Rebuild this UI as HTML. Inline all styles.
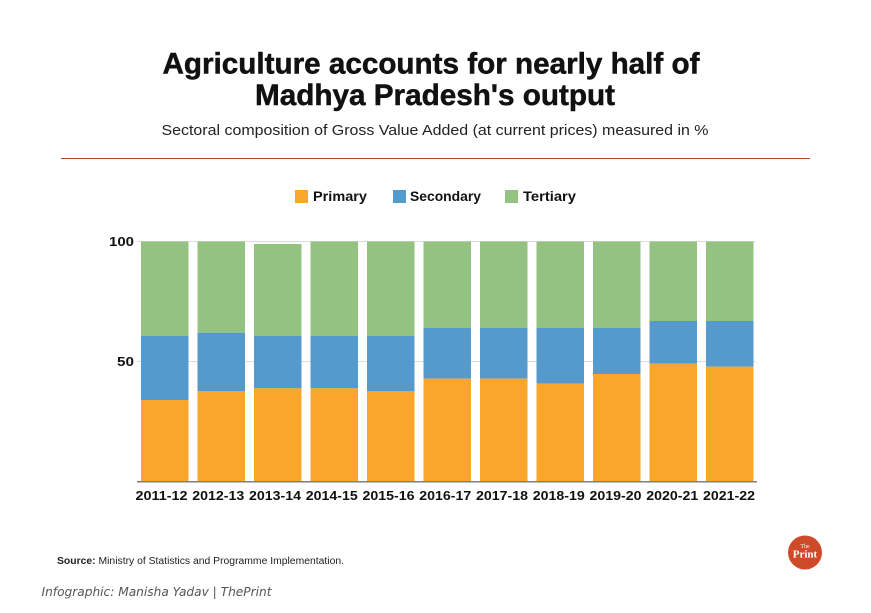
<!DOCTYPE html>
<html>
<head>
<meta charset="utf-8">
<style>
  html,body{margin:0;padding:0;background:#fff;}
  svg{display:block;}
</style>
</head>
<body>
<svg width="871" height="613" viewBox="0 0 871 613" xmlns="http://www.w3.org/2000/svg">
  <rect width="871" height="613" fill="#ffffff"/>
  <!-- Title -->
  <text x="162.5" y="73.5" font-family="Liberation Sans, sans-serif" font-weight="bold" font-size="29.5" fill="#111" stroke="#111" stroke-width="0.5" textLength="537" lengthAdjust="spacingAndGlyphs">Agriculture accounts for nearly half of</text>
  <text x="255" y="105" font-family="Liberation Sans, sans-serif" font-weight="bold" font-size="29.5" fill="#111" stroke="#111" stroke-width="0.5" textLength="360" lengthAdjust="spacingAndGlyphs">Madhya Pradesh's output</text>
  <text x="161.5" y="135" font-family="Liberation Sans, sans-serif" font-size="14.5" fill="#222" textLength="547" lengthAdjust="spacingAndGlyphs">Sectoral composition of Gross Value Added (at current prices) measured in %</text>
  <line x1="61" y1="158.5" x2="810" y2="158.5" stroke="#A84A2C" stroke-width="1"/>

  <!-- Legend -->
  <rect x="295" y="190" width="13" height="13" fill="#FAA52B"/>
  <text x="313" y="201" font-family="Liberation Sans, sans-serif" font-weight="bold" font-size="13.5" fill="#111" textLength="54" lengthAdjust="spacingAndGlyphs">Primary</text>
  <rect x="393" y="190" width="13" height="13" fill="#559ACD"/>
  <text x="410" y="201" font-family="Liberation Sans, sans-serif" font-weight="bold" font-size="13.5" fill="#111" textLength="71" lengthAdjust="spacingAndGlyphs">Secondary</text>
  <rect x="505" y="190" width="13" height="13" fill="#94C280"/>
  <text x="523" y="201" font-family="Liberation Sans, sans-serif" font-weight="bold" font-size="13.5" fill="#111" textLength="53" lengthAdjust="spacingAndGlyphs">Tertiary</text>

  <!-- Gridlines -->
  <line x1="137" y1="241.5" x2="756" y2="241.5" stroke="#dcdcdc" stroke-width="1"/>
  <line x1="137" y1="361.5" x2="756" y2="361.5" stroke="#dcdcdc" stroke-width="1"/>

  <!-- Y labels -->
  <text x="134" y="246" text-anchor="end" font-family="Liberation Sans, sans-serif" font-weight="bold" font-size="13" fill="#111" textLength="25" lengthAdjust="spacingAndGlyphs">100</text>
  <text x="134" y="366" text-anchor="end" font-family="Liberation Sans, sans-serif" font-weight="bold" font-size="13" fill="#111" textLength="17" lengthAdjust="spacingAndGlyphs">50</text>

  <!-- Bars -->
  <g>
    <rect x="141" y="241.5" width="47.5" height="94.5" fill="#94C280"/>
    <rect x="141" y="336" width="47.5" height="64" fill="#559ACD"/>
    <rect x="141" y="400" width="47.5" height="81.5" fill="#FAA52B"/>

    <rect x="197.5" y="241.5" width="47.5" height="91.2" fill="#94C280"/>
    <rect x="197.5" y="332.7" width="47.5" height="58.3" fill="#559ACD"/>
    <rect x="197.5" y="391" width="47.5" height="90.5" fill="#FAA52B"/>

    <rect x="254" y="244" width="47.5" height="92" fill="#94C280"/>
    <rect x="254" y="336" width="47.5" height="52.3" fill="#559ACD"/>
    <rect x="254" y="388.3" width="47.5" height="93.2" fill="#FAA52B"/>

    <rect x="310.5" y="241.5" width="47.5" height="94.5" fill="#94C280"/>
    <rect x="310.5" y="336" width="47.5" height="52.3" fill="#559ACD"/>
    <rect x="310.5" y="388.3" width="47.5" height="93.2" fill="#FAA52B"/>

    <rect x="367" y="241.5" width="47.5" height="94.5" fill="#94C280"/>
    <rect x="367" y="336" width="47.5" height="55" fill="#559ACD"/>
    <rect x="367" y="391" width="47.5" height="90.5" fill="#FAA52B"/>

    <rect x="423.5" y="241.5" width="47.5" height="86.5" fill="#94C280"/>
    <rect x="423.5" y="328" width="47.5" height="50.7" fill="#559ACD"/>
    <rect x="423.5" y="378.7" width="47.5" height="102.8" fill="#FAA52B"/>

    <rect x="480" y="241.5" width="47.5" height="86.5" fill="#94C280"/>
    <rect x="480" y="328" width="47.5" height="50.7" fill="#559ACD"/>
    <rect x="480" y="378.7" width="47.5" height="102.8" fill="#FAA52B"/>

    <rect x="536.5" y="241.5" width="47.5" height="86.5" fill="#94C280"/>
    <rect x="536.5" y="328" width="47.5" height="55.7" fill="#559ACD"/>
    <rect x="536.5" y="383.7" width="47.5" height="97.8" fill="#FAA52B"/>

    <rect x="593" y="241.5" width="47.5" height="86.5" fill="#94C280"/>
    <rect x="593" y="328" width="47.5" height="46" fill="#559ACD"/>
    <rect x="593" y="374" width="47.5" height="107.5" fill="#FAA52B"/>

    <rect x="649.5" y="241.5" width="47.5" height="79.5" fill="#94C280"/>
    <rect x="649.5" y="321" width="47.5" height="42.7" fill="#559ACD"/>
    <rect x="649.5" y="363.7" width="47.5" height="117.8" fill="#FAA52B"/>

    <rect x="706" y="241.5" width="47.5" height="79.5" fill="#94C280"/>
    <rect x="706" y="321" width="47.5" height="45.7" fill="#559ACD"/>
    <rect x="706" y="366.7" width="47.5" height="114.8" fill="#FAA52B"/>
  </g>

  <!-- Axis line -->
  <line x1="137" y1="481.8" x2="757" y2="481.8" stroke="#7f7f7f" stroke-width="1.5"/>

  <!-- X labels -->
  <g font-family="Liberation Sans, sans-serif" font-weight="bold" font-size="12.5" fill="#111" text-anchor="middle">
    <text x="161.5" y="500" textLength="52" lengthAdjust="spacingAndGlyphs">2011-12</text>
    <text x="218.25" y="500" textLength="52" lengthAdjust="spacingAndGlyphs">2012-13</text>
    <text x="275" y="500" textLength="52" lengthAdjust="spacingAndGlyphs">2013-14</text>
    <text x="331.75" y="500" textLength="52" lengthAdjust="spacingAndGlyphs">2014-15</text>
    <text x="388.5" y="500" textLength="52" lengthAdjust="spacingAndGlyphs">2015-16</text>
    <text x="445.25" y="500" textLength="52" lengthAdjust="spacingAndGlyphs">2016-17</text>
    <text x="502" y="500" textLength="52" lengthAdjust="spacingAndGlyphs">2017-18</text>
    <text x="558.75" y="500" textLength="52" lengthAdjust="spacingAndGlyphs">2018-19</text>
    <text x="615.5" y="500" textLength="52" lengthAdjust="spacingAndGlyphs">2019-20</text>
    <text x="672.25" y="500" textLength="52" lengthAdjust="spacingAndGlyphs">2020-21</text>
    <text x="729" y="500" textLength="52" lengthAdjust="spacingAndGlyphs">2021-22</text>
  </g>

  <!-- Source -->
  <text x="57" y="564" font-family="Liberation Sans, sans-serif" font-size="10" fill="#222" textLength="287" lengthAdjust="spacingAndGlyphs"><tspan font-weight="bold">Source:</tspan> Ministry of Statistics and Programme Implementation.</text>
  <text x="41.5" y="596" font-family="DejaVu Sans, sans-serif" font-style="italic" font-size="12" fill="#555" textLength="230" lengthAdjust="spacingAndGlyphs">Infographic: Manisha Yadav | ThePrint</text>

  <!-- Logo -->
  <circle cx="805" cy="552.5" r="17" fill="#CE4A28"/>
  <text x="805" y="548" text-anchor="middle" font-family="Liberation Serif, serif" font-size="6" fill="#fff">The</text>
  <text x="805" y="557.5" text-anchor="middle" font-family="Liberation Serif, serif" font-weight="bold" font-size="11" fill="#fff">Print</text>
</svg>
</body>
</html>
